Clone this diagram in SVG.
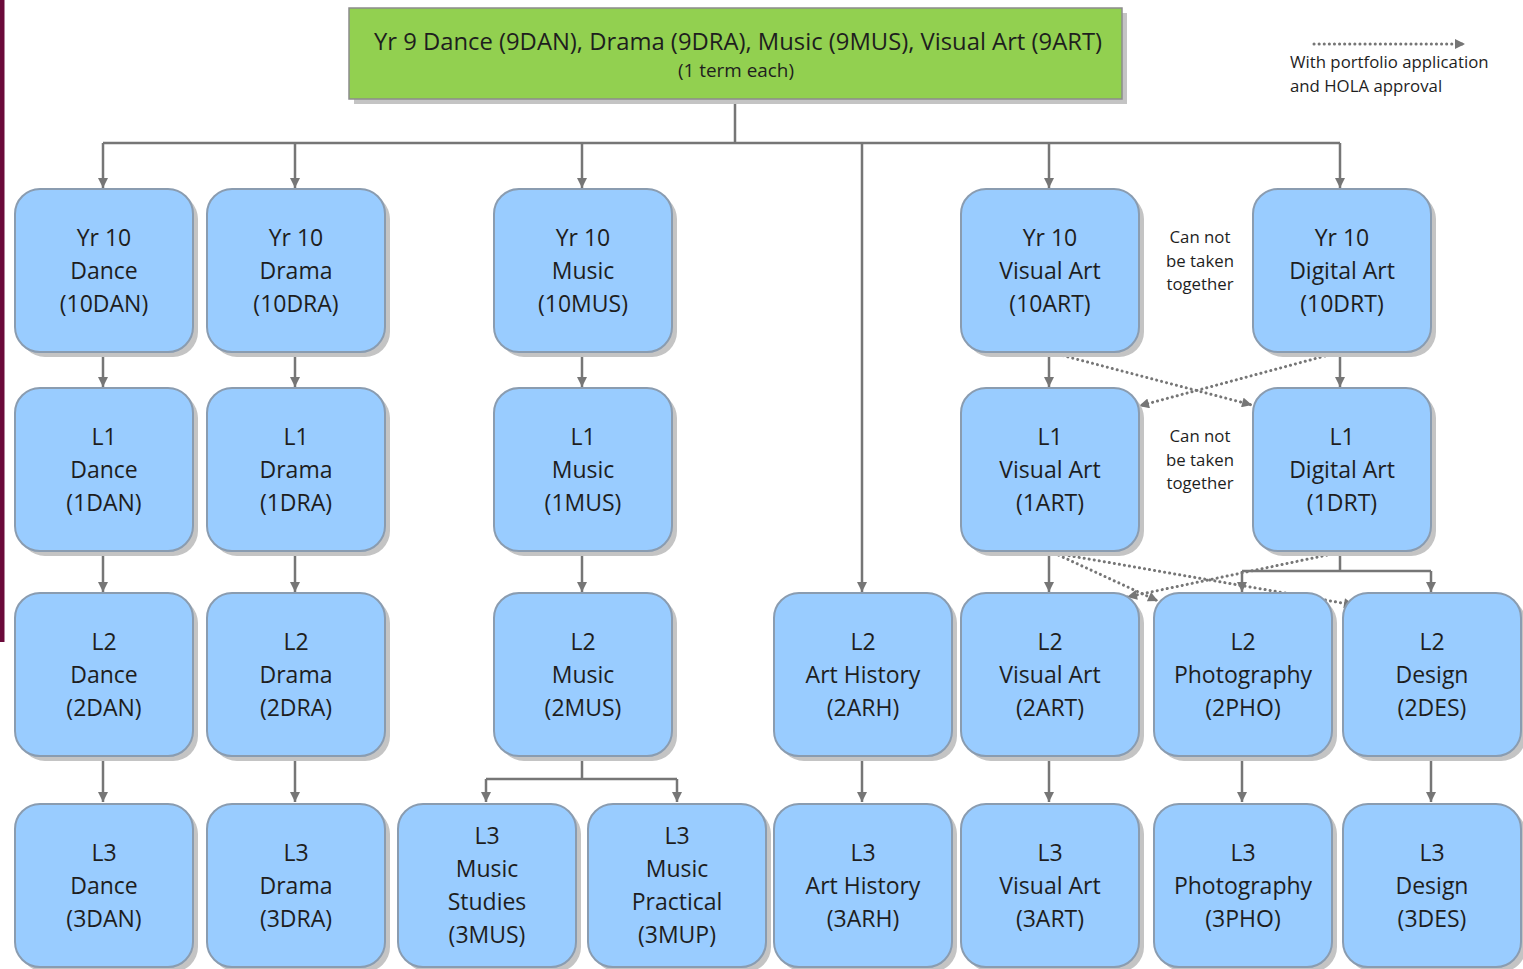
<svg xmlns="http://www.w3.org/2000/svg" width="1523" height="969" viewBox="0 0 1523 969">
<defs>
<style>
.box{fill:#99ccff;stroke:#8a9cb0;stroke-width:2}
.sh{fill:#c4c4c4}
.t{font-family:"Open Sans","Liberation Sans",sans-serif;font-size:23px;fill:#1e1e1e;text-anchor:middle}
.s{font-family:"Open Sans","Liberation Sans",sans-serif;font-size:16.8px;fill:#1e1e1e;text-anchor:middle}
.ln{fill:none;stroke:#767676;stroke-width:2.5}
.dot{fill:none;stroke:#767676;stroke-width:3;stroke-dasharray:0.1 5;stroke-linecap:round}
</style>
<marker id="ah" viewBox="0 0 10 10" refX="10" refY="5" markerUnits="userSpaceOnUse" markerWidth="11" markerHeight="10" orient="auto">
<path d="M0,0 L10,5 L0,10 z" fill="#767676"/>
</marker>
</defs>
<rect width="1523" height="969" fill="#ffffff"/>
<rect x="0" y="0" width="4.5" height="642" fill="#6b0a3a"/>

<g id="connectors">
<path class="ln" d="M735,99 V143 M103,143 H1340"/>
<path class="ln" marker-end="url(#ah)" d="M103,143 V188"/>
<path class="ln" marker-end="url(#ah)" d="M295,143 V188"/>
<path class="ln" marker-end="url(#ah)" d="M582,143 V188"/>
<path class="ln" marker-end="url(#ah)" d="M862,143 V592"/>
<path class="ln" marker-end="url(#ah)" d="M1049,143 V188"/>
<path class="ln" marker-end="url(#ah)" d="M1340,143 V188"/>
<path class="ln" marker-end="url(#ah)" d="M103,352 V387"/>
<path class="ln" marker-end="url(#ah)" d="M295,352 V387"/>
<path class="ln" marker-end="url(#ah)" d="M582,352 V387"/>
<path class="ln" marker-end="url(#ah)" d="M1049,352 V387"/>
<path class="ln" marker-end="url(#ah)" d="M1340,352 V387"/>
<path class="ln" marker-end="url(#ah)" d="M103,551 V592"/>
<path class="ln" marker-end="url(#ah)" d="M295,551 V592"/>
<path class="ln" marker-end="url(#ah)" d="M582,551 V592"/>
<path class="ln" marker-end="url(#ah)" d="M1049,551 V592"/>
<path class="ln" d="M1340,551 V571 M1242,571 H1431"/>
<path class="ln" marker-end="url(#ah)" d="M1242,571 V592"/>
<path class="ln" marker-end="url(#ah)" d="M1431,571 V592"/>
<path class="ln" marker-end="url(#ah)" d="M103,756 V802"/>
<path class="ln" marker-end="url(#ah)" d="M295,756 V802"/>
<path class="ln" d="M582,756 V779 M486,779 H677"/>
<path class="ln" marker-end="url(#ah)" d="M486,779 V802"/>
<path class="ln" marker-end="url(#ah)" d="M677,779 V802"/>
<path class="ln" marker-end="url(#ah)" d="M862,756 V802"/>
<path class="ln" marker-end="url(#ah)" d="M1049,756 V802"/>
<path class="ln" marker-end="url(#ah)" d="M1242,756 V802"/>
<path class="ln" marker-end="url(#ah)" d="M1431,756 V802"/>
<path class="dot" marker-end="url(#ah)" d="M1053,353 L1252,405"/>
<path class="dot" marker-end="url(#ah)" d="M1325,356 L1139,406"/>
<path class="dot" marker-end="url(#ah)" d="M1054,553 L1158,601"/>
<path class="dot" marker-end="url(#ah)" d="M1054,553 L1354,605"/>
<path class="dot" marker-end="url(#ah)" d="M1337,553 L1127,597"/>
</g>

<g id="n-yr9">
<rect class="sh" x="354" y="13" width="773" height="91"/>
<rect x="349" y="8" width="773" height="91" fill="#92d050" stroke="#8c8c8c" stroke-width="1.5"/>
<text class="t" x="738" y="50" style="font-size:23.8px">Yr 9 Dance (9DAN), Drama (9DRA), Music (9MUS), Visual Art (9ART)</text>
<text class="s" x="736" y="77" style="font-size:18.9px">(1 term each)</text>
</g>

<g id="legend">
<path class="dot" marker-end="url(#ah)" d="M1314,44 L1465,44"/>
<text class="s" x="1290" y="68" style="text-anchor:start">With portfolio application</text>
<text class="s" x="1290" y="92" style="text-anchor:start">and HOLA approval</text>
</g>

<g id="note1"><text class="s" x="1200" y="243">Can not<tspan x="1200" dy="23.5">be taken</tspan><tspan x="1200" dy="23.5">together</tspan></text></g>
<g id="note2"><text class="s" x="1200" y="442">Can not<tspan x="1200" dy="23.5">be taken</tspan><tspan x="1200" dy="23.5">together</tspan></text></g>

<!-- Yr10 row -->
<g id="n-10dan"><rect class="sh" x="20" y="194" width="178" height="163" rx="25"/><rect class="box" x="15" y="189" width="178" height="163" rx="25"/><text class="t" x="104" y="246">Yr 10<tspan x="104" dy="33">Dance</tspan><tspan x="104" dy="33">(10DAN)</tspan></text></g>
<g id="n-10dra"><rect class="sh" x="212" y="194" width="178" height="163" rx="25"/><rect class="box" x="207" y="189" width="178" height="163" rx="25"/><text class="t" x="296" y="246">Yr 10<tspan x="296" dy="33">Drama</tspan><tspan x="296" dy="33">(10DRA)</tspan></text></g>
<g id="n-10mus"><rect class="sh" x="499" y="194" width="178" height="163" rx="25"/><rect class="box" x="494" y="189" width="178" height="163" rx="25"/><text class="t" x="583" y="246">Yr 10<tspan x="583" dy="33">Music</tspan><tspan x="583" dy="33">(10MUS)</tspan></text></g>
<g id="n-10art"><rect class="sh" x="966" y="194" width="178" height="163" rx="25"/><rect class="box" x="961" y="189" width="178" height="163" rx="25"/><text class="t" x="1050" y="246">Yr 10<tspan x="1050" dy="33">Visual Art</tspan><tspan x="1050" dy="33">(10ART)</tspan></text></g>
<g id="n-10drt"><rect class="sh" x="1258" y="194" width="178" height="163" rx="25"/><rect class="box" x="1253" y="189" width="178" height="163" rx="25"/><text class="t" x="1342" y="246">Yr 10<tspan x="1342" dy="33">Digital Art</tspan><tspan x="1342" dy="33">(10DRT)</tspan></text></g>

<!-- L1 row -->
<g id="n-1dan"><rect class="sh" x="20" y="393" width="178" height="163" rx="25"/><rect class="box" x="15" y="388" width="178" height="163" rx="25"/><text class="t" x="104" y="445">L1<tspan x="104" dy="33">Dance</tspan><tspan x="104" dy="33">(1DAN)</tspan></text></g>
<g id="n-1dra"><rect class="sh" x="212" y="393" width="178" height="163" rx="25"/><rect class="box" x="207" y="388" width="178" height="163" rx="25"/><text class="t" x="296" y="445">L1<tspan x="296" dy="33">Drama</tspan><tspan x="296" dy="33">(1DRA)</tspan></text></g>
<g id="n-1mus"><rect class="sh" x="499" y="393" width="178" height="163" rx="25"/><rect class="box" x="494" y="388" width="178" height="163" rx="25"/><text class="t" x="583" y="445">L1<tspan x="583" dy="33">Music</tspan><tspan x="583" dy="33">(1MUS)</tspan></text></g>
<g id="n-1art"><rect class="sh" x="966" y="393" width="178" height="163" rx="25"/><rect class="box" x="961" y="388" width="178" height="163" rx="25"/><text class="t" x="1050" y="445">L1<tspan x="1050" dy="33">Visual Art</tspan><tspan x="1050" dy="33">(1ART)</tspan></text></g>
<g id="n-1drt"><rect class="sh" x="1258" y="393" width="178" height="163" rx="25"/><rect class="box" x="1253" y="388" width="178" height="163" rx="25"/><text class="t" x="1342" y="445">L1<tspan x="1342" dy="33">Digital Art</tspan><tspan x="1342" dy="33">(1DRT)</tspan></text></g>

<!-- L2 row -->
<g id="n-2dan"><rect class="sh" x="20" y="598" width="178" height="163" rx="25"/><rect class="box" x="15" y="593" width="178" height="163" rx="25"/><text class="t" x="104" y="650">L2<tspan x="104" dy="33">Dance</tspan><tspan x="104" dy="33">(2DAN)</tspan></text></g>
<g id="n-2dra"><rect class="sh" x="212" y="598" width="178" height="163" rx="25"/><rect class="box" x="207" y="593" width="178" height="163" rx="25"/><text class="t" x="296" y="650">L2<tspan x="296" dy="33">Drama</tspan><tspan x="296" dy="33">(2DRA)</tspan></text></g>
<g id="n-2mus"><rect class="sh" x="499" y="598" width="178" height="163" rx="25"/><rect class="box" x="494" y="593" width="178" height="163" rx="25"/><text class="t" x="583" y="650">L2<tspan x="583" dy="33">Music</tspan><tspan x="583" dy="33">(2MUS)</tspan></text></g>
<g id="n-2arh"><rect class="sh" x="779" y="598" width="178" height="163" rx="25"/><rect class="box" x="774" y="593" width="178" height="163" rx="25"/><text class="t" x="863" y="650">L2<tspan x="863" dy="33">Art History</tspan><tspan x="863" dy="33">(2ARH)</tspan></text></g>
<g id="n-2art"><rect class="sh" x="966" y="598" width="178" height="163" rx="25"/><rect class="box" x="961" y="593" width="178" height="163" rx="25"/><text class="t" x="1050" y="650">L2<tspan x="1050" dy="33">Visual Art</tspan><tspan x="1050" dy="33">(2ART)</tspan></text></g>
<g id="n-2pho"><rect class="sh" x="1159" y="598" width="178" height="163" rx="25"/><rect class="box" x="1154" y="593" width="178" height="163" rx="25"/><text class="t" x="1243" y="650">L2<tspan x="1243" dy="33">Photography</tspan><tspan x="1243" dy="33">(2PHO)</tspan></text></g>
<g id="n-2des"><rect class="sh" x="1348" y="598" width="178" height="163" rx="25"/><rect class="box" x="1343" y="593" width="178" height="163" rx="25"/><text class="t" x="1432" y="650">L2<tspan x="1432" dy="33">Design</tspan><tspan x="1432" dy="33">(2DES)</tspan></text></g>

<!-- L3 row -->
<g id="n-3dan"><rect class="sh" x="20" y="809" width="178" height="163" rx="25"/><rect class="box" x="15" y="804" width="178" height="163" rx="25"/><text class="t" x="104" y="861">L3<tspan x="104" dy="33">Dance</tspan><tspan x="104" dy="33">(3DAN)</tspan></text></g>
<g id="n-3dra"><rect class="sh" x="212" y="809" width="178" height="163" rx="25"/><rect class="box" x="207" y="804" width="178" height="163" rx="25"/><text class="t" x="296" y="861">L3<tspan x="296" dy="33">Drama</tspan><tspan x="296" dy="33">(3DRA)</tspan></text></g>
<g id="n-3mus"><rect class="sh" x="403" y="809" width="178" height="163" rx="25"/><rect class="box" x="398" y="804" width="178" height="163" rx="25"/><text class="t" x="487" y="844">L3<tspan x="487" dy="33">Music</tspan><tspan x="487" dy="33">Studies</tspan><tspan x="487" dy="33">(3MUS)</tspan></text></g>
<g id="n-3mup"><rect class="sh" x="593" y="809" width="178" height="163" rx="25"/><rect class="box" x="588" y="804" width="178" height="163" rx="25"/><text class="t" x="677" y="844">L3<tspan x="677" dy="33">Music</tspan><tspan x="677" dy="33">Practical</tspan><tspan x="677" dy="33">(3MUP)</tspan></text></g>
<g id="n-3arh"><rect class="sh" x="779" y="809" width="178" height="163" rx="25"/><rect class="box" x="774" y="804" width="178" height="163" rx="25"/><text class="t" x="863" y="861">L3<tspan x="863" dy="33">Art History</tspan><tspan x="863" dy="33">(3ARH)</tspan></text></g>
<g id="n-3art"><rect class="sh" x="966" y="809" width="178" height="163" rx="25"/><rect class="box" x="961" y="804" width="178" height="163" rx="25"/><text class="t" x="1050" y="861">L3<tspan x="1050" dy="33">Visual Art</tspan><tspan x="1050" dy="33">(3ART)</tspan></text></g>
<g id="n-3pho"><rect class="sh" x="1159" y="809" width="178" height="163" rx="25"/><rect class="box" x="1154" y="804" width="178" height="163" rx="25"/><text class="t" x="1243" y="861">L3<tspan x="1243" dy="33">Photography</tspan><tspan x="1243" dy="33">(3PHO)</tspan></text></g>
<g id="n-3des"><rect class="sh" x="1348" y="809" width="178" height="163" rx="25"/><rect class="box" x="1343" y="804" width="178" height="163" rx="25"/><text class="t" x="1432" y="861">L3<tspan x="1432" dy="33">Design</tspan><tspan x="1432" dy="33">(3DES)</tspan></text></g>
</svg>
